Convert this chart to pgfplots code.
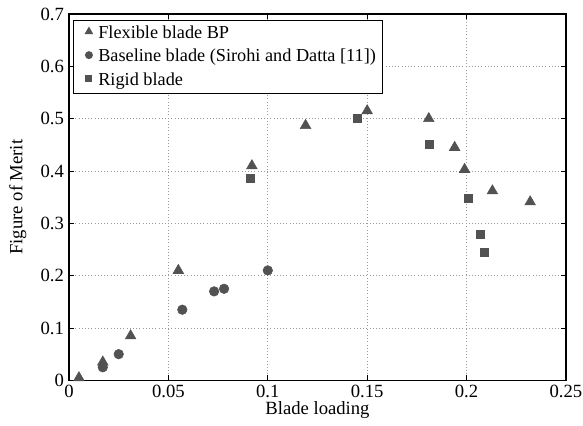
\documentclass[border=0pt]{standalone}
\usepackage{fontspec}
\setmainfont{Liberation Serif}
\usepackage{pgfplots}
\pgfplotsset{compat=1.18}
\definecolor{mk}{HTML}{525252}
\pgfplotsset{
  legA/.style={legend image code/.code={\path (0cm,0cm) (0.44cm,0cm); \draw[##1, mark options={scale=0.62}] plot coordinates {(0.28cm,0.05cm)};}},
  legB/.style={legend image code/.code={\path (0cm,0cm) (0.44cm,0cm); \draw[##1, mark options={scale=0.68}] plot coordinates {(0.28cm,0.05cm)};}},
  legC/.style={legend image code/.code={\path (0cm,0cm) (0.44cm,0cm); \draw[##1, mark options={scale=0.72}] plot coordinates {(0.28cm,0.05cm)};}},
}
\begin{document}
\fontsize{14pt}{16pt}\selectfont
\begin{tikzpicture}
\begin{axis}[
  name=ax,
  scale only axis,
  width=373pt, height=275pt,
  xmin=0, xmax=0.25, ymin=0, ymax=0.7,
  xtick={0,0.05,0.1,0.15,0.2,0.25}, ytick={0,0.1,0.2,0.3,0.4,0.5,0.6,0.7},
  xticklabel={\pgfmathprintnumber[assume math mode=true,fixed,precision=2]{\tick}},
  yticklabel={\pgfmathprintnumber[assume math mode=true,fixed,precision=2]{\tick}},
  tick label style={font=\fontsize{14pt}{16pt}\selectfont},
  label style={font=\fontsize{14pt}{16pt}\selectfont},
  grid=major,
  grid style={dotted, gray!80, line width=0.5pt},
  axis line style={line width=1pt},
  tick style={black, line width=0.6pt},
  tick align=inside,
  major tick length=4pt,
  xlabel={Blade loading}, ylabel={Figure of Merit},
  xlabel style={at={(axis description cs:0.5,-0.082)}, anchor=center},
  ylabel style={at={(axis description cs:-0.103,0.5)}, anchor=center},
  xticklabel style={yshift=1pt},
  yticklabel style={xshift=1pt},
  legend style={at={(0.008,0.984)}, anchor=north west, draw=black, line width=1pt, font=\fontsize{13.7pt}{16pt}\selectfont, row sep=2pt, inner xsep=3pt, inner ysep=2pt},
  legend cell align=left,
]
\addplot[only marks, mark=triangle*, mark size=4.6pt, color=mk, legA] coordinates {
(0.005,0.005) (0.017,0.035) (0.031,0.085) (0.055,0.21) (0.092,0.41) (0.119,0.487)
(0.150,0.515) (0.181,0.50) (0.194,0.445) (0.199,0.403) (0.213,0.362) (0.232,0.341)};
\addlegendentry{Flexible blade BP}
\addplot[only marks, mark=*, mark size=3.6pt, color=mk, legB] coordinates {
(0.017,0.025) (0.025,0.05) (0.057,0.135) (0.073,0.17) (0.078,0.175) (0.100,0.21)};
\addlegendentry{Baseline blade (Sirohi and Datta [11])}
\addplot[only marks, mark=square*, mark size=3pt, color=mk, legC] coordinates {
(0.091,0.387) (0.145,0.50) (0.181,0.452) (0.201,0.348) (0.207,0.28) (0.209,0.245)};
\addlegendentry{Rigid blade}
\end{axis}
\pgfresetboundingbox
\path[use as bounding box] ([xshift=-51.8pt,yshift=-33.8pt]ax.south west) rectangle ([xshift=12.8pt,yshift=10.5pt]ax.north east);
\end{tikzpicture}
\end{document}
